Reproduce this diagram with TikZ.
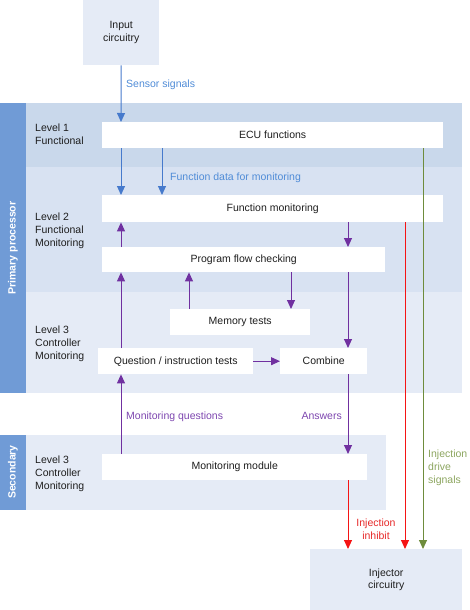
\documentclass[tikz,border=0pt]{standalone}
\usepackage{fontspec}
\setmainfont{Liberation Sans}
\usetikzlibrary{arrows.meta,calc}
\definecolor{stripc}{RGB}{112,155,214}
\definecolor{bandA}{RGB}{201,216,235}
\definecolor{bandB}{RGB}{216,226,242}
\definecolor{bandC}{RGB}{229,235,246}
\definecolor{bluec}{RGB}{70,122,204}
\definecolor{bluet}{RGB}{80,140,215}
\definecolor{purc}{RGB}{112,48,160}
\definecolor{purt}{RGB}{125,70,175}
\definecolor{redc}{RGB}{245,20,20}
\definecolor{redt}{RGB}{230,40,40}
\definecolor{grnc}{RGB}{110,140,60}
\definecolor{grnt}{RGB}{140,165,95}
\definecolor{txt}{RGB}{30,30,30}
\begin{document}
\begin{tikzpicture}[x=1pt,y=-1pt,
  every node/.style={font=\fontsize{10.5}{12.8}\selectfont, text=txt, inner sep=0pt},
  box/.style={fill=white, anchor=north west},
  lbox/.style={fill=bandC, anchor=north west, align=center},
  lvl/.style={anchor=north west, align=left},
  tip/.style={-{Triangle[length=9pt,width=8pt]}},
  arrb/.style={draw=bluec, line width=1pt, tip},
  arrp/.style={draw=purc, line width=1pt, tip},
  arrr/.style={draw=redc, line width=1pt, tip},
  arrg/.style={draw=grnc, line width=1pt, tip},
  striptext/.style={rotate=90, text=white, font=\fontsize{10.5}{12.8}\selectfont\bfseries}
]
\useasboundingbox (0,0) rectangle (469,610);
% bands
\fill[bandA] (26,103) rectangle (462,167);
\fill[bandB] (26,167) rectangle (462,292);
\fill[bandC] (26,292) rectangle (462,393);
\fill[bandC] (26,435) rectangle (386,510);
\fill[stripc] (0,103) rectangle (26,393);
\fill[stripc] (0,435) rectangle (26,510);
\node[striptext] (sp) at (13,248) {Primary processor};
\node[striptext] (ss) at (13,472) {Secondary};
% level labels
\node[lvl] (l1) at (35,124) {Level 1\\Functional};
\node[lvl] (l2) at (35,213) {Level 2\\Functional\\Monitoring};
\node[lvl] (l3) at (35,326) {Level 3\\Controller\\Monitoring};
\node[lvl] (l4) at (35,456) {Level 3\\Controller\\Monitoring};
% boxes
\node[lbox, minimum width=76pt, minimum height=65pt] (input) at (83,0) {Input\\circuitry};
\node[lbox, minimum width=152pt, minimum height=61pt] (inj) at (310,549) {Injector\\circuitry};
\node[box, minimum width=341pt, minimum height=26pt] (ecu) at (102,122) {ECU functions};
\node[box, minimum width=341pt, minimum height=27pt] (fm) at (102,195) {Function monitoring};
\node[box, minimum width=283pt, minimum height=25pt] (pfc) at (102,247) {Program flow checking};
\node[box, minimum width=140pt, minimum height=26pt] (mem) at (170,309) {Memory tests};
\node[box, minimum width=155pt, minimum height=26pt] (qit) at (98,348) {Question / instruction tests};
\node[box, minimum width=87pt, minimum height=26pt] (comb) at (280,348) {Combine};
\node[box, minimum width=265pt, minimum height=26pt] (mm) at (102,454) {Monitoring module};
% columns
\coordinate (c1) at (121,0);
\coordinate (c2) at (162,0);
\coordinate (c3) at (189,0);
\coordinate (c4) at (291,0);
\coordinate (c5) at (348,0);
\coordinate (c6) at (405,0);
\coordinate (c7) at (423,0);
% blue arrows
\draw[arrb] (input.south) -- (ecu.north -| c1);
\draw[arrb] (ecu.south -| c1) -- (fm.north -| c1);
\draw[arrb] (ecu.south -| c2) -- (fm.north -| c2);
\node[anchor=west, text=bluet] (lsens) at (126,85) {Sensor signals};
\node[anchor=west, text=bluet] (lfd) at (170,178) {Function data for monitoring};
% purple arrows
\draw[arrp] (pfc.north -| c1) -- (fm.south -| c1);
\draw[arrp] (fm.south -| c5) -- (pfc.north -| c5);
\draw[arrp] (pfc.south -| c5) -- (comb.north -| c5);
\draw[arrp] (mem.north -| c3) -- (pfc.south -| c3);
\draw[arrp] (pfc.south -| c4) -- (mem.north -| c4);
\draw[arrp] (qit.north -| c1) -- (pfc.south -| c1);
\draw[arrp] (qit.east) -- (comb.west);
\draw[arrp] (mm.north -| c1) -- (qit.south -| c1);
\draw[arrp] (comb.south -| c5) -- (mm.north -| c5);
\node[anchor=west, text=purt] (lmq) at (126,417) {Monitoring questions};
\node[anchor=east, text=purt] (lans) at (342,416) {Answers};
% red and green
\draw[arrr] (mm.south -| c5) -- (inj.north -| c5);
\draw[arrr] (fm.south -| c6) -- (inj.north -| c6);
\draw[arrg] (ecu.south -| c7) -- (inj.north -| c7);
\node[anchor=north, align=center, text=redt] (linh) at (376,519) {Injection\\inhibit};
\node[anchor=north west, align=left, text=grnt] (ldrv) at (428,450) {Injection\\drive\\signals};
\end{tikzpicture}
\end{document}
